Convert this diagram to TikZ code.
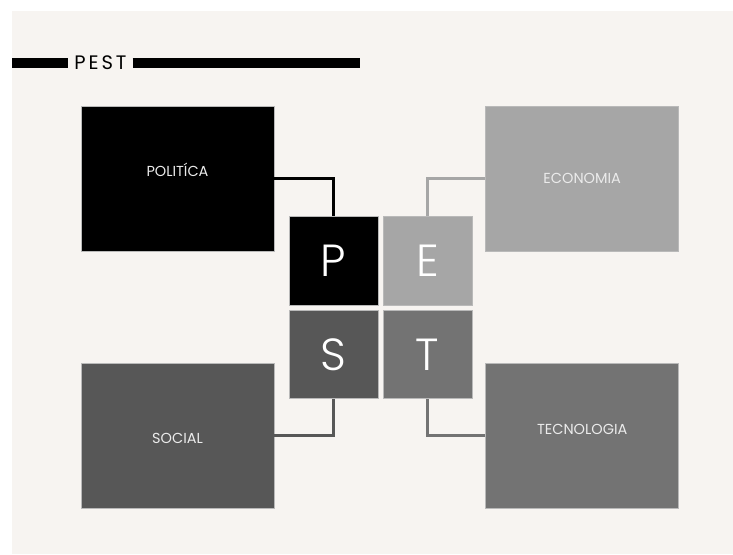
\documentclass[tikz,border=0pt]{standalone}
\usepackage{fontspec}
\setmainfont{Poppins}
\newfontfamily\thinfont{Poppins Light}
\newfontfamily\spacedfont[LetterSpace=15]{Poppins}
\usetikzlibrary{positioning}
\definecolor{pestBeige}{HTML}{F7F4F1}
\definecolor{pestBlack}{HTML}{000000}
\definecolor{pestLight}{HTML}{A6A6A6}
\definecolor{pestDark}{HTML}{575757}
\definecolor{pestMid}{HTML}{737373}
\definecolor{pestText}{HTML}{EBEBEB}

\begin{document}
\begin{tikzpicture}[x=1pt,y=-1pt,node distance=4.5pt and 4.5pt,
  f/.style={draw=gray!55,line width=0.6pt,inner sep=0pt,minimum width=193pt,minimum height=145pt},
  sq/.style={f,minimum width=89pt,minimum height=88.5pt,text=white,font=\thinfont\fontsize{45}{45}\selectfont},
  t/.style={text=pestText,font=\fontsize{14.5}{15}\selectfont,anchor=base,inner sep=0pt},
  c/.style={line width=3pt},
  bar/.style={line width=9.4pt}]
  % page and background
  \fill[white] (0,0) rectangle (733,554);
  \fill[pestBeige] (12,11) rectangle (733,554);
  \useasboundingbox (0,0) rectangle (733,554);
  % title
  \coordinate (barL) at (12,63);
  \coordinate (barR) at (360,63);
  \node[font=\spacedfont\fontsize{19.5}{20}\selectfont,inner xsep=6pt,inner ysep=0pt] (ttl) at (100.5,63) {PEST};
  \draw[bar] (barL) -- (ttl.west);
  \draw[bar] (ttl.east) -- (barR);
  % big boxes
  \node[f,fill=pestBlack] (pol) at (177.5,178.7) {};
  \node[f,fill=pestLight] (eco) at (582.2,178.7) {};
  \node[f,fill=pestDark] (soc) at (177.5,435.8) {};
  \node[f,fill=pestMid] (tec) at (582.2,435.8) {};
  \node[t] (polT) at ([yshift=2.3pt]pol.center) {POLITÍCA};
  \node[t] (ecoT) at ([yshift=-4.8pt]eco.center) {ECONOMIA};
  \node[t] (socT) at ([yshift=-7.2pt]soc.center) {SOCIAL};
  \node[t] (tecT) at ([yshift=1.5pt]tec.center) {TECNOLOGIA};
  % letter squares
  \node[sq,fill=pestBlack] (p) at (333.3,260.8) {P};
  \node[sq,fill=pestLight,right=of p] (e) {E};
  \node[sq,fill=pestDark,below=of p] (s) {S};
  \node[sq,fill=pestMid,right=of s] (t) {T};
  % links
  \draw[c,pestBlack] (pol.east) -| (p.north);
  \draw[c,pestLight] (eco.west) -| (e.north);
  \draw[c,pestDark] (soc.east) -| (s.south);
  \draw[c,pestMid] (tec.west) -| (t.south);
\end{tikzpicture}
\end{document}
